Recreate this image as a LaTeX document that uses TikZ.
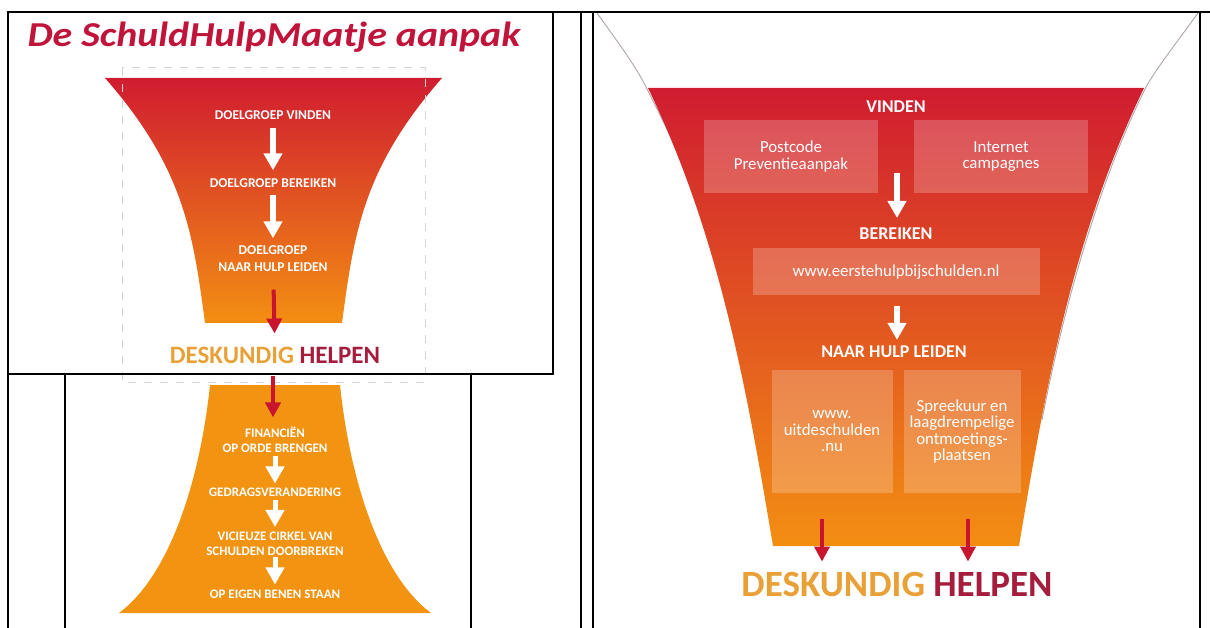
\documentclass[tikz,border=0pt]{standalone}
\usepackage{fontspec}
\setmainfont{Carlito}
\newfontfamily\titelfont[FakeStretch=1.14]{Carlito}
\usetikzlibrary{arrows.meta}

\definecolor{titelrood}{RGB}{192,20,58}
\definecolor{helpenrood}{RGB}{165,28,60}
\definecolor{deskoranje}{RGB}{232,160,55}
\definecolor{trechterrood}{RGB}{208,28,48}
\definecolor{trechtermid}{RGB}{228,82,42}
\definecolor{trechteroranje}{RGB}{243,142,18}
\definecolor{bergoranje}{RGB}{242,147,18}
\definecolor{pijlrood}{RGB}{200,20,45}
\definecolor{stippel}{RGB}{212,212,212}
\definecolor{randgrijs}{RGB}{175,165,170}

\tikzset{
  lijn/.style={line width=1.3pt,black},
  kaps/.style={text=white,font=\bfseries\fontsize{13.5}{17}\selectfont,align=center,inner sep=0pt},
  bergkaps/.style={kaps,font=\bfseries\fontsize{13}{15}\selectfont},
  kop/.style={text=white,font=\bfseries\fontsize{18}{20}\selectfont,inner sep=0pt},
  vak/.style={fill=white,fill opacity=0.22,text opacity=1,text=white,
    font=\fontsize{16.8}{16.5}\selectfont,align=center,inner sep=0pt},
  desk/.style={font=\bfseries\fontsize{25}{28}\selectfont,inner sep=0pt},
  witpijl/.style={draw=white,line width=6pt,-{Triangle[width=18pt,length=17pt]}},
  roodpijl/.style={draw=pijlrood,line width=4pt,-{Triangle[width=15pt,length=15pt]}},
}

\begin{document}
\begin{tikzpicture}[x=1pt,y=-1pt]
\useasboundingbox (0,0) rectangle (1210,628);

% linker deel, bovenste trechter
\node [font=\titelfont\bfseries\itshape\fontsize{35}{38}\selectfont,text=titelrood,inner sep=0pt] (titel) at (274,37) {De SchuldHulpMaatje aanpak};
\shade [top color=trechterrood,middle color=trechtermid,bottom color=trechteroranje]
  (105,78) -- (442,78) .. controls (363,168) and (354,233) .. (342,323)
  -- (205,323) .. controls (193,233) and (184,168) .. (105,78) -- cycle;
\draw [stippel,line width=1pt,dash pattern=on 8pt off 8pt] (122,68) rectangle (425,382);
\node [kaps] (dvinden) at (273,115) {DOELGROEP VINDEN};
\node [kaps] (dbereiken) at (273,183) {DOELGROEP BEREIKEN};
\node [kaps] (dleiden) at (273,258.5) {DOELGROEP\\NAAR HULP LEIDEN};
\node [desk] (dhelpen) at (275,355) {\textcolor{deskoranje}{DESKUNDIG} \textcolor{helpenrood}{HELPEN}};
\draw [witpijl,shorten <=8pt,shorten >=8pt] (dvinden) -- (dbereiken);
\draw [witpijl,shorten <=7pt,shorten >=7pt] (dbereiken) -- (dleiden);
\draw [roodpijl,shorten <=18pt,shorten >=13pt] (dleiden) -- (dhelpen);

% linker deel, onderste berg
\fill [bergoranje] (210,385) -- (340,385) .. controls (350,480) and (380,575) .. (431,613)
  -- (119,613) .. controls (170,575) and (200,480) .. (210,385) -- cycle;
\coordinate (rboven) at (273,376);
\node [bergkaps] (fin) at (275,439.5) {FINANCIËN\\OP ORDE BRENGEN};
\node [bergkaps] (gedrag) at (275,492) {GEDRAGSVERANDERING};
\node [bergkaps] (vicieus) at (275,544) {VICIEUZE CIRKEL VAN\\SCHULDEN DOORBREKEN};
\node [bergkaps] (eigen) at (275,594) {OP EIGEN BENEN STAAN};
\draw [roodpijl,shorten >=9pt] (rboven) -- (rboven |- fin.north);
\draw [witpijl,line width=5pt,shorten <=3pt,shorten >=4pt] (fin) -- (gedrag);
\draw [witpijl,line width=5pt,shorten <=3pt,shorten >=5pt] (gedrag) -- (vicieus);
\draw [witpijl,line width=5pt,shorten <=1pt,shorten >=5pt] (vicieus) -- (eigen);

% rechter deel
\draw [randgrijs,line width=0.9pt] (597,13) .. controls (620,45) and (637,68) .. (647,89)
  .. controls (660,115) and (672,138) .. (681,162);
\draw [randgrijs,line width=0.9pt] (1198,13) .. controls (1175,45) and (1155,70) .. (1145,89)
  .. controls (1100,180) and (1065,300) .. (1042,420);
\shade [top color=trechterrood,middle color=trechtermid,bottom color=trechteroranje]
  (648,88) -- (1144,88) .. controls (1071,239) and (1044,397) .. (1019,546)
  -- (773,546) .. controls (748,397) and (721,239) .. (648,88) -- cycle;
\node [kop] (vinden) at (896,107) {VINDEN};
\node [vak,minimum width=174pt,minimum height=73pt] (postcode) at (791,156.5) {Postcode\\Preventieaanpak};
\node [vak,minimum width=174pt,minimum height=73pt] (internet) at (1001,156.5) {Internet\\campagnes};
\coordinate (pv) at (897,173);
\node [kop] (bereiken) at (896,234) {BEREIKEN};
\node [vak,minimum width=287pt,minimum height=47pt] (eerste) at (896,272) {www.eerstehulpbijschulden.nl};
\node [kop] (naarhulp) at (894,352) {NAAR HULP LEIDEN};
\node [vak,minimum width=121pt,minimum height=123pt] (uitde) at (832,431.5) {www.\\uitdeschulden\\.nu};
\node [vak,minimum width=117pt,minimum height=123pt] (spreekuur) at (962,431.5) {Spreekuur en\\laagdrempelige\\ontmoetings-\\plaatsen};
\node [desk,font=\bfseries\fontsize{37}{40}\selectfont] (rhelpen) at (897,585) {\textcolor{deskoranje}{DESKUNDIG} \textcolor{helpenrood}{HELPEN}};
\coordinate (rl) at (822,519);
\coordinate (rr) at (968,519);
\draw [witpijl,shorten >=10pt] (pv) -- (pv |- bereiken.north);
\draw [witpijl,shorten <=10pt,shorten >=6pt] (eerste.south -| pv) -- (pv |- naarhulp.north);
\draw [roodpijl,line width=3.5pt,shorten >=11pt] (rl) -- (rl |- rhelpen.north);
\draw [roodpijl,line width=3.5pt,shorten >=11pt] (rr) -- (rr |- rhelpen.north);

% tabel
\draw [lijn,fill=none] (8,12) rectangle (553,374);
\draw [lijn] (8,12) -- (1210,12);
\draw [lijn] (8,374) -- (8,628);
\draw [lijn] (65,374) -- (65,628);
\draw [lijn] (471,374) -- (471,628);
\draw [lijn] (581,12) -- (581,628);
\draw [lijn] (593,12) -- (593,628);
\draw [lijn] (1200,12) -- (1200,628);
\end{tikzpicture}
\end{document}
